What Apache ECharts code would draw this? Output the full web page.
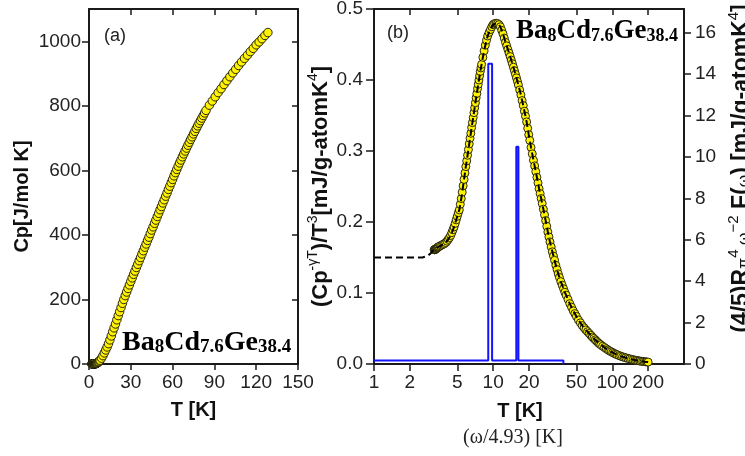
<!DOCTYPE html>
<html><head><meta charset="utf-8">
<script src="https://cdn.jsdelivr.net/npm/echarts@6/dist/echarts.min.js"></script>
<style>html,body{margin:0;padding:0;background:#fff}#c{width:745px;height:456px}</style>
</head><body><div id="c"></div>
<script>
// ---------- Panel (a): Cp vs T ----------
const tA = [2,2.25,2.5,2.75,3,3.25,3.5,3.75,4,4.25,4.5,4.75,5,5.25,5.5,5.75,6,6.5,7,7.5,8,9,10,11,12,13,14,15,16,17,18,19,20,21,22,23,24,25,26,27,28,29,30,
  31,32,33,34,35,36,37,38,39,40,41,42,43,44,45,46,47,48,49,50,51,52,53,54,55,56,57,58,59,60,
  61,62,63,64,65,66,67,68,69,70,71,72,73,74,75,76,77,78,79,80,81,82,83,84,
  86.4,88.5,90.6,92.7,94.8,96.9,99,101.1,103.2,105.3,107.4,109.5,111.6,113.7,115.8,117.9,120,122.1,124.2,126.3,128.4];
const cpA = [0.1,0.12,0.15,0.18,0.2,0.25,0.3,0.4,0.6,0.7,0.9,1.1,1.4,1.7,2.1,2.6,3.3,4.8,6.7,9,11.8,18.1,25.8,34.4,43.5,52.9,63,74.7,87,100,112,124,137,150,162,175,188,200,212,223,234,245,256,
  267,278,288,299,309,320,330,341,351,362,372,383,393,404,415,425,436,446,457,467,478,488,499,509,520,530,541,551,562,572,
  583,593,603,613,623,632,642,651,660,669,678,687,696,704,713,721,730,738,746,754,762,770,778,786,
  802,815,828,841,853,866,878,890,902,913,925,936,947,957,968,978,989,998,1008,1018,1027];

// ---------- Panel (b): (Cp - gamma T)/T^3 vs T (log) ----------
const tB = [3.20,3.22,3.24,3.26,3.28,3.30,3.32,3.34,3.36,3.38,3.41,3.44,3.48,3.52,
  3.60,3.70,3.80,3.90,4.00,4.10,4.20,4.30,4.40,4.50,4.60,4.70,4.80,4.90,5.00,5.10,
  5.2,5.3,5.4,5.5,5.6,5.7,5.8,5.9,6.0,6.1,6.2,6.3,6.4,6.5,6.6,6.7,6.8,6.9,7.0,7.1,7.2,7.3,7.4,7.5,7.6,7.7,7.8,7.9,8.0,
  8.2,8.4,8.6,8.8,9.0,9.25,9.5,9.75,10.0,10.3,10.6,10.9,11.2,11.5,
  11.8,12.1,12.4,12.7,13.0,13.3,13.6,13.9,14.2,14.5,14.8,15.1,15.4,15.7,16.0,16.3,16.7,17.1,17.5,17.9,18.3,18.7,19.1,19.5,19.9,
  20.3,20.8,21.3,21.8,22.3,22.8,23.3,23.8,24.3,24.8,25.3,25.8,26.4,27.0,27.6,28.2,28.8,29.4,30.0,30.7,31.4,32.1,32.8,33.6,34.4,
  35.2,36.0,37.0,38.0,39.0,40.0,41.0,42.5,44.0,45.5,47.0,48.5,50,52,54,56,58,60,62,64,66,68,70,72,74,76,78,80,83,86,89,92,95,98,
  101,104,107,110,114,118,122,126,130,135,140,145,150,155,160,165,170,175,180,185,190,195,200];
const vB = [0.161,0.161,0.161,0.1615,0.1615,0.162,0.1625,0.1625,0.163,0.1635,0.164,0.1645,0.165,0.1655,
  0.1665,0.1675,0.1685,0.1695,0.171,0.173,0.1755,0.178,0.181,0.185,0.189,0.193,0.198,0.203,0.208,0.213,
  0.217,0.225,0.233,0.242,0.251,0.260,0.269,0.278,0.286,0.294,0.302,0.310,0.318,0.325,0.333,0.340,0.347,0.354,0.361,0.368,0.375,0.381,0.388,0.394,0.400,0.406,0.412,0.417,0.422,
  0.432,0.441,0.449,0.456,0.462,0.467,0.471,0.475,0.478,0.4795,0.480,0.4795,0.478,0.475,
  0.470,0.465,0.459,0.453,0.448,0.443,0.438,0.433,0.428,0.423,0.418,0.413,0.408,0.403,0.398,0.393,0.386,0.379,0.371,0.364,0.356,0.349,0.341,0.332,0.323,
  0.315,0.305,0.296,0.287,0.279,0.271,0.263,0.255,0.247,0.240,0.233,0.226,0.218,0.210,0.202,0.194,0.186,0.179,0.172,0.165,0.158,0.152,0.146,0.139,0.133,
  0.127,0.122,0.116,0.111,0.106,0.101,0.097,0.091,0.085,0.080,0.075,0.071,0.067,0.062,0.058,0.054,0.051,0.048,0.0455,0.043,0.0405,0.038,0.036,0.034,0.032,0.030,0.0285,0.027,0.025,0.0232,0.0215,0.0198,0.0184,0.0171,
  0.016,0.0149,0.0139,0.013,0.0119,0.011,0.0101,0.0094,0.0087,0.0079,0.0072,0.0066,0.006,0.0055,0.005,0.0046,0.0042,0.0039,0.0036,0.0033,0.0031,0.0029,0.0027];
// dashed fit: low-T extension before the data
const fitLeadT = [1, 2.55, 2.8, 3.0, 3.1];
const fitLeadV = [0.150, 0.150, 0.152, 0.156, 0.159];
// phonon spectrum F(omega) outline (right axis)
const stepT = [1, 9.1, 9.1, 9.8, 9.8, 15.65, 15.65, 16.3, 16.3, 38.9, 38.9];
const stepF = [0.17, 0.17, 14.5, 14.5, 0.17, 0.17, 10.5, 10.5, 0.17, 0.17, 0];

// tick values
const yTicksA = [0,200,400,600,800,1000];
const xTicksB = [1,2,5,10,20,50,100,200];
const yTicksBR = [0,2,4,6,8,10,12,14,16];

const zip = (a, b) => a.map((v, i) => [v, b[i]]);
const SANS = 'Liberation Sans, Arial, sans-serif';
const SERIF = 'Liberation Serif, Times New Roman, serif';
const INK = '#1a1a1a';
const axLine = {show: true, onZero: false, lineStyle: {color: INK, width: 2}};
const lbl = {fontFamily: SANS, fontSize: 19, color: '#222'};
const logTicks = xTicksB.map(v => Math.log10(v));
const XMAXB = 400;
const formulaRich = (big, small, lhS) => ({
  B: {fontFamily: SERIF, fontWeight: 'bold', fontSize: big, lineHeight: 30, verticalAlign: 'bottom', color: '#111'},
  s: {fontFamily: SERIF, fontWeight: 'bold', fontSize: small, lineHeight: lhS, verticalAlign: 'bottom', color: '#111'}
});

const chart = echarts.init(document.getElementById('c'), null, {renderer: 'canvas'});
chart.setOption({
  animation: false,
  backgroundColor: '#fff',
  grid: [
    {left: 89, top: 9, width: 209, height: 355, containLabel: false, outerBoundsMode: 'none'},
    {left: 374, top: 9, width: 310, height: 355, containLabel: false, outerBoundsMode: 'none'}
  ],
  xAxis: [
    {gridIndex: 0, type: 'value', min: 0, max: 150, interval: 30, position: 'bottom',
      axisLine: axLine, axisTick: {length: 6, lineStyle: {color: INK, width: 1.5}},
      axisLabel: Object.assign({margin: 9}, lbl), splitLine: {show: false},
      name: 'T [K]', nameLocation: 'middle', nameGap: 36,
      nameTextStyle: {fontFamily: SANS, fontWeight: 'bold', fontSize: 20, color: '#111'}},
    {gridIndex: 0, type: 'value', min: 0, max: 150, interval: 30, position: 'top',
      axisLine: axLine, axisTick: {inside: true, length: 6, lineStyle: {color: INK, width: 1.5}},
      axisLabel: {show: false}, splitLine: {show: false}},
    {gridIndex: 1, type: 'log', logBase: 10, min: 1, max: XMAXB, show: false, splitLine: {show: false}},
    {gridIndex: 1, type: 'value', min: 0, max: Math.log10(XMAXB), position: 'bottom',
      axisLine: axLine,
      axisTick: {length: 7, customValues: logTicks, lineStyle: {color: INK, width: 1.5}},
      axisLabel: Object.assign({margin: 9, customValues: logTicks,
        formatter: v => String(Math.round(Math.pow(10, v)))}, lbl),
      splitLine: {show: false},
      name: 'T [K]', nameLocation: 'middle', nameGap: 37,
      nameTextStyle: {fontFamily: SANS, fontWeight: 'bold', fontSize: 20, color: '#111', padding: [0, 18, 0, 0]}},
    {gridIndex: 1, type: 'value', min: 0, max: Math.log10(XMAXB), position: 'top',
      axisLine: axLine,
      axisTick: {inside: true, length: 6, customValues: logTicks, lineStyle: {color: INK, width: 1.5}},
      axisLabel: {show: false}, splitLine: {show: false}}
  ],
  yAxis: [
    {gridIndex: 0, type: 'value', min: 0, max: 1100, position: 'left',
      axisLine: axLine, axisTick: {length: 7, customValues: yTicksA, lineStyle: {color: INK, width: 1.5}},
      axisLabel: Object.assign({margin: 8, customValues: yTicksA, formatter: v => String(v)}, lbl), splitLine: {show: false},
      name: 'Cp[J/mol K]', nameLocation: 'middle', nameGap: 57, nameRotate: 90,
      nameTextStyle: {fontFamily: SANS, fontWeight: 'bold', fontSize: 20, color: '#111', padding: [0, 20, 0, 0]}},
    {gridIndex: 0, type: 'value', min: 0, max: 1100, position: 'right',
      axisLine: axLine, axisTick: {inside: true, length: 6, customValues: yTicksA, lineStyle: {color: INK, width: 1.5}},
      axisLabel: {show: false}, splitLine: {show: false}},
    {gridIndex: 1, type: 'value', min: 0, max: 0.5, interval: 0.1, position: 'left',
      axisLine: axLine, axisTick: {length: 8, lineStyle: {color: INK, width: 1.5}},
      axisLabel: Object.assign({margin: 11, formatter: v => v.toFixed(1)}, lbl), splitLine: {show: false},
      name: '{b|(Cp}{sup|-γT}{b|)/T}{sup|3}{b|[mJ/g-atomK}{sup|4}{b|]}',
      nameLocation: 'middle', nameGap: 42, nameRotate: 90,
      nameTextStyle: {rich: {
        b: {fontFamily: SANS, fontWeight: 'bold', fontSize: 22, color: '#111', lineHeight: 26, verticalAlign: 'bottom'},
        sup: {fontFamily: SANS, fontWeight: 'normal', fontSize: 14, color: '#111', lineHeight: 14, verticalAlign: 'top'}
      }}},
    {gridIndex: 1, type: 'value', min: 0, max: 17.15, position: 'right',
      axisLine: axLine, axisTick: {length: 7, customValues: yTicksBR, lineStyle: {color: INK, width: 1.5}},
      axisLabel: Object.assign({margin: 11, customValues: yTicksBR}, lbl), splitLine: {show: false},
      name: '{b|(4/5)R}{sm|π}{sup|4}{sm| ω}{sup|−2}{b| F(}{sm|ω}{b|) [mJ/g-atomK}{sup|4}{b|]}',
      nameLocation: 'middle', nameGap: 42, nameRotate: 90,
      nameTextStyle: {padding: [0, 0, 0, 36], rich: {
        b: {fontFamily: SANS, fontWeight: 'bold', fontSize: 23, color: '#111', lineHeight: 27, verticalAlign: 'bottom'},
        sm: {fontFamily: SANS, fontWeight: 'normal', fontSize: 16, color: '#111', lineHeight: 21, verticalAlign: 'bottom'},
        sup: {fontFamily: SANS, fontWeight: 'normal', fontSize: 15, color: '#111', lineHeight: 15, verticalAlign: 'top'}
      }}}
  ],
  series: [
    {type: 'scatter', xAxisIndex: 0, yAxisIndex: 0, data: zip(tA, cpA), symbolSize: 8.5,
      itemStyle: {color: '#fff200', borderColor: '#111', borderWidth: 0.9, opacity: 1}, z: 3},
    {type: 'line', xAxisIndex: 2, yAxisIndex: 3, data: zip(stepT, stepF), showSymbol: false, symbol: 'none',
      lineStyle: {color: '#1414ff', width: 2}, z: 2},
    {type: 'scatter', xAxisIndex: 2, yAxisIndex: 2, data: zip(tB, vB), symbolSize: 8,
      itemStyle: {color: '#fff200', borderColor: '#111', borderWidth: 0.9, opacity: 1}, z: 3},
    {type: 'line', xAxisIndex: 2, yAxisIndex: 2, data: zip(fitLeadT.concat(tB), fitLeadV.concat(vB)),
      showSymbol: false, symbol: 'none', lineStyle: {color: '#000', width: 2, type: [7, 4]}, z: 4}
  ],
  graphic: [
    {type: 'text', x: 104, y: 36, style: {text: '(a)', font: '18px ' + SANS, fill: '#222', verticalAlign: 'middle'}},
    {type: 'text', x: 387, y: 33, style: {text: '(b)', font: '18px ' + SANS, fill: '#222', verticalAlign: 'middle'}},
    {type: 'text', x: 122, y: 342, z: 10, style: {
      text: '{B|Ba}{s|8}{B|Cd}{s|7.6}{B|Ge}{s|38.4}', verticalAlign: 'middle', rich: formulaRich(28, 19, 25)}},
    {type: 'text', x: 516, y: 30, z: 10, style: {
      text: '{B|Ba}{s|8}{B|Cd}{s|7.6}{B|Ge}{s|38.4}', verticalAlign: 'middle', rich: formulaRich(27, 18, 25)}},
    {type: 'text', x: 513, y: 438, style: {text: '(ω/4.93) [K]', font: '20px ' + SERIF, fill: '#222', align: 'center', verticalAlign: 'middle'}}
  ]
});
</script>
</body></html>
